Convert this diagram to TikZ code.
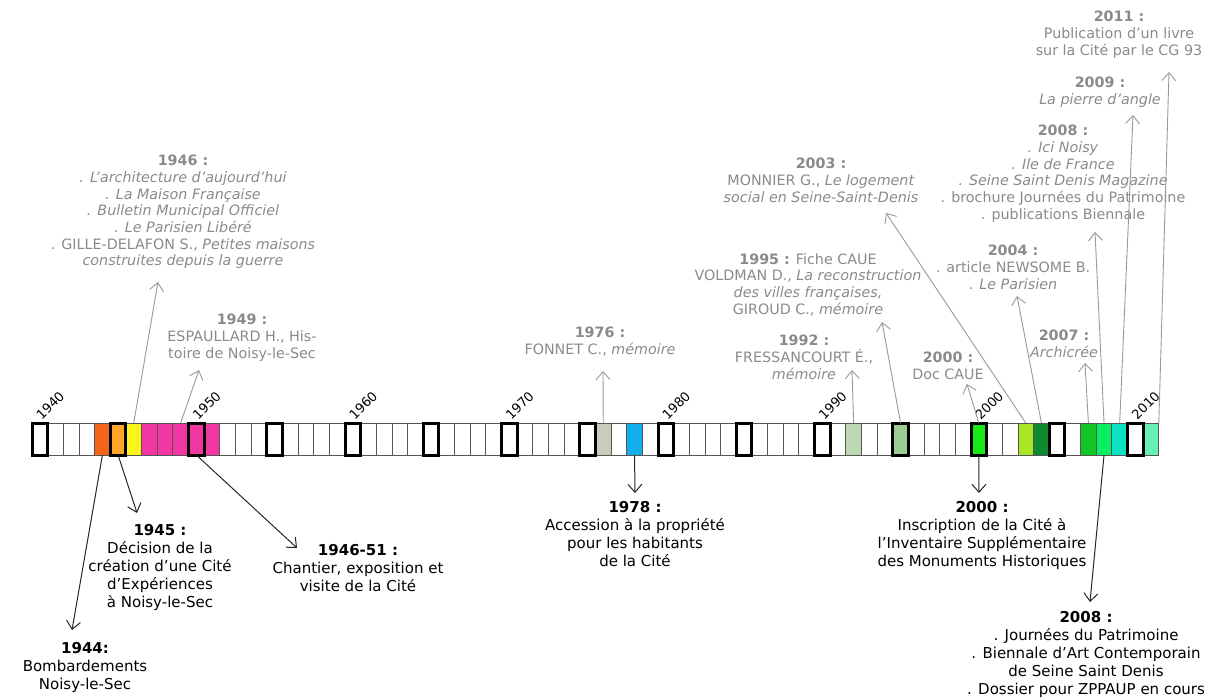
\documentclass[tikz,border=0pt]{standalone}
\usepackage{fontspec}
\setmainfont{DejaVu Sans}
\usetikzlibrary{arrows.meta}
\definecolor{txtgray}{HTML}{8A8A8A}
\definecolor{arrgray}{HTML}{999999}
\definecolor{cellline}{HTML}{555555}
\definecolor{c1944}{HTML}{F2661A}
\definecolor{c1945}{HTML}{FFA628}
\definecolor{c1946}{HTML}{FFF41C}
\definecolor{cpink}{HTML}{F236A2}
\definecolor{c1976}{HTML}{C8CCBA}
\definecolor{c1978}{HTML}{12AEEC}
\definecolor{c1992}{HTML}{BDD8B5}
\definecolor{c1995}{HTML}{9CCB94}
\definecolor{c2000}{HTML}{14EA14}
\definecolor{c2003}{HTML}{AAE626}
\definecolor{c2004}{HTML}{0E8A30}
\definecolor{c2007}{HTML}{12C426}
\definecolor{c2008}{HTML}{0AEE64}
\definecolor{c2009}{HTML}{0AE4C4}
\definecolor{c2011}{HTML}{66F0B4}

\begin{document}
\begin{tikzpicture}[x=1pt,y=-1pt,
  cell/.style={draw=cellline,line width=0.8pt,minimum width=15.65pt,minimum height=32pt,inner sep=0pt,outer sep=0pt},
  yearlab/.style={anchor=south west,rotate=45,inner sep=0pt,font=\fontsize{13}{13}\selectfont},
  toplab/.style={anchor=north,align=center,inner sep=0pt,text=txtgray,font=\fontsize{14.3}{16.7}\selectfont},
  botlab/.style={anchor=north,align=center,inner sep=0pt,font=\fontsize{15}{18}\selectfont},
  uparr/.style={draw=arrgray,line width=0.9pt,-{Straight Barb[length=8pt,width=14pt]}},
  downarr/.style={draw=black!85,line width=1pt,-{Straight Barb[length=8pt,width=14pt]}}]
\useasboundingbox (0,0) rectangle (1207,700);

% frise 1940-2011
\foreach \i in {0,...,71}
  \node[cell] (c\i) at ({32+15.65*(\i+0.5)},439) {};
\foreach \i/\col in {4/c1944,5/c1945,6/c1946,7/cpink,8/cpink,9/cpink,10/cpink,11/cpink,36/c1976,38/c1978,52/c1992,55/c1995,60/c2000,63/c2003,64/c2004,67/c2007,68/c2008,69/c2009,71/c2011}
  \draw[cellline,line width=0.8pt,fill=\col] (c\i.north west) rectangle (c\i.south east);
\foreach \i in {0,5,...,70}
  \draw[line width=3pt] (c\i.north west) rectangle (c\i.south east);
\foreach \i in {0,10,...,70}{
  \pgfmathtruncatemacro{\an}{1940+\i}
  \node[yearlab] at ([xshift=10pt,yshift=2pt]c\i.north west) {\an};}

% publications (au-dessus)
\node[toplab] (l1946) at (183,155) {\textbf{1946 :}\\\textit{. L’architecture d’aujourd’hui}\\\textit{. La Maison Française}\\\textit{. Bulletin Municipal Officiel}\\\textit{. Le Parisien Libéré}\\. GILLE-DELAFON S., \textit{Petites maisons}\\\textit{construites depuis la guerre}};
\node[toplab] (l1949) at (242,314) {\textbf{1949 :}\\ESPAULLARD H., His-\\toire de Noisy-le-Sec};
\node[toplab] (l1976) at (600,327) {\textbf{1976 :}\\FONNET C., \textit{mémoire}};
\node[toplab] (l1992) at (804,335) {\textbf{1992 :}\\FRESSANCOURT É.,\\\textit{mémoire}};
\node[toplab] (l1995) at (808,253) {\textbf{1995 :} Fiche CAUE\\VOLDMAN D., \textit{La reconstruction}\\\textit{des villes françaises,}\\GIROUD C., \textit{mémoire}};
\node[toplab] (l2003) at (821,158) {\textbf{2003 :}\\MONNIER G., \textit{Le logement}\\\textit{social en Seine-Saint-Denis}};
\node[toplab] (l2000) at (948,352) {\textbf{2000 :}\\Doc CAUE};
\node[toplab] (l2004) at (1013,245) {\textbf{2004 :}\\. article NEWSOME B.\\. \textit{Le Parisien}};
\node[toplab] (l2007) at (1064,330) {\textbf{2007 :}\\\textit{Archicrée}};
\node[toplab] (l2008) at (1063,125) {\textbf{2008 :}\\\textit{. Ici Noisy}\\\textit{. Ile de France}\\\textit{. Seine Saint Denis Magazine}\\. brochure Journées du Patrimoine\\. publications Biennale};
\node[toplab] (l2009) at (1100,77) {\textbf{2009 :}\\\textit{La pierre d’angle}};
\node[toplab] (l2011) at (1119,11) {\textbf{2011 :}\\Publication d’un livre\\sur la Cité par le CG 93};

% evenements (au-dessous)
\node[botlab] (b1944) at (85,642) {\textbf{1944:}\\Bombardements\\Noisy-le-Sec};
\node[botlab] (b1945) at (160,524) {\textbf{1945 :}\\Décision de la\\création d’une Cité\\d’Expériences\\à Noisy-le-Sec};
\node[botlab] (b1951) at (358,544) {\textbf{1946-51 :}\\Chantier, exposition et\\visite de la Cité};
\node[botlab] (b1978) at (635,501) {\textbf{1978 :}\\Accession à la propriété\\pour les habitants\\de la Cité};
\node[botlab] (b2000) at (982,501) {\textbf{2000 :}\\Inscription de la Cité à\\l’Inventaire Supplémentaire\\des Monuments Historiques};
\node[botlab] (b2008) at (1086,611) {\textbf{2008 :}\\. Journées du Patrimoine\\. Biennale d’Art Contemporain\\de Seine Saint Denis\\. Dossier pour ZPPAUP en cours};

% fleches
\foreach \c/\n/\px/\py in {6/1946/158/282,9/1949/199/370,36/1976/603/371,52/1992/852/370,55/1995/882/322,60/2000/967/384,63/2003/886/213,64/2004/1017/296,67/2007/1085/363,68/2008/1095/232,69/2009/1133/115}{
  \coordinate (a\n) at (\px,\py);
  \draw[uparr] (c\c.north) -- (a\n);}
\coordinate (a2011) at (1169,72);
\draw[uparr] (c71.north east) -- (a2011);
\foreach \c/\n/\px/\py in {4/1944/72/630,5/1945/137/513,10/1951/297/548,38/1978/635/493,60/2000/979/493,68/2008/1090/602}{
  \coordinate (d\n) at (\px,\py);
  \draw[downarr] (c\c.south) -- (d\n);}
\end{tikzpicture}
\end{document}
